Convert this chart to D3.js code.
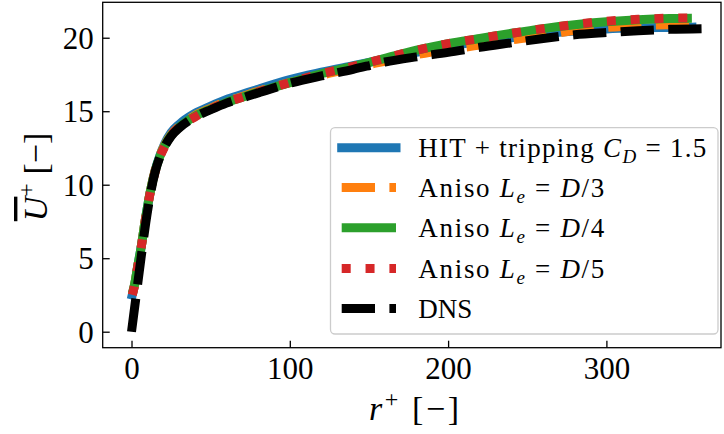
<!DOCTYPE html>
<html><head><meta charset="utf-8">
<script src="https://cdn.jsdelivr.net/npm/d3@7"></script>
<style>html,body{margin:0;padding:0;background:#fff;} svg{display:block;}</style>
</head><body>
<svg id="chart" width="724" height="434"></svg>
<script>
// Mean axial velocity profiles, wall units
const rDNS = [0, 3, 6, 9, 12, 15, 18, 21, 25, 30, 40, 50, 60, 70, 80, 100, 120, 140, 160, 180, 200, 220, 240, 260, 280, 300, 320, 340, 361];
const uDNS = [0, 2.5, 5.0, 7.4, 9.4, 10.9, 11.9, 12.6, 13.3, 13.85, 14.6, 15.1, 15.55, 15.9, 16.25, 16.9, 17.4, 17.85, 18.35, 18.7, 19.0, 19.35, 19.65, 19.95, 20.2, 20.35, 20.48, 20.57, 20.62];

const rModel = [0.5, 2, 4, 6, 9, 12, 15, 18, 21, 25, 30, 40, 50, 60, 70, 80, 100, 120, 140, 160, 180, 200, 220, 240, 260, 280, 300, 320, 340, 354];
const uHIT = [2.5, 3.2, 4.5, 5.7, 7.8, 9.6, 11.0, 12.0, 12.8, 13.55, 14.1, 14.85, 15.35, 15.8, 16.15, 16.5, 17.15, 17.65, 18.1, 18.55, 19.0, 19.4, 19.75, 20.0, 20.25, 20.45, 20.6, 20.67, 20.7, 20.72];
const uAniso3 = [2.55, 3.2, 4.5, 5.7, 7.8, 9.6, 11.0, 12.0, 12.7, 13.4, 13.95, 14.7, 15.2, 15.65, 16.0, 16.35, 16.95, 17.45, 17.95, 18.4, 18.85, 19.2, 19.5, 19.85, 20.15, 20.5, 20.7, 20.82, 20.88, 20.9];
const uAniso4 = [2.6, 3.25, 4.5, 5.7, 7.8, 9.6, 10.95, 11.95, 12.65, 13.35, 13.9, 14.65, 15.15, 15.6, 15.95, 16.3, 16.95, 17.55, 18.05, 18.6, 19.15, 19.6, 19.95, 20.3, 20.62, 20.88, 21.08, 21.22, 21.3, 21.32];
const uAniso5 = [2.5, 3.2, 4.45, 5.65, 7.75, 9.55, 10.9, 11.9, 12.6, 13.35, 13.9, 14.6, 15.15, 15.6, 15.95, 16.3, 16.95, 17.55, 18.05, 18.6, 19.15, 19.6, 19.95, 20.3, 20.62, 20.9, 21.12, 21.25, 21.33, 21.35];

const xTicks = [0, 100, 200, 300];
const yTicks = [0, 5, 10, 15, 20];

// label pieces: [text, italic?, shift ('sub' | 'sup' | null)]
const labelHIT = [["HIT + tripping ", false, null], ["C", true, null], ["D", true, "sub"], [" = 1.5", false, null]];
const labelA3 = [["Aniso ", false, null], ["L", true, null], ["e", true, "sub"], [" = ", false, null], ["D", true, null], ["/3", false, null]];
const labelA4 = [["Aniso ", false, null], ["L", true, null], ["e", true, "sub"], [" = ", false, null], ["D", true, null], ["/4", false, null]];
const labelA5 = [["Aniso ", false, null], ["L", true, null], ["e", true, "sub"], [" = ", false, null], ["D", true, null], ["/5", false, null]];
const labelDNS = [["DNS", false, null]];

const LW = 9;
const series = [
  {r: rModel, u: uHIT, color: "#1f77b4", dash: null, cap: "square", label: labelHIT, width: 288},
  {r: rModel, u: uAniso3, color: "#ff7f0e", dash: [3.7 * LW, 1.6 * LW], cap: "butt", label: labelA3, width: 186},
  {r: rModel, u: uAniso4, color: "#2ca02c", dash: null, cap: "butt", label: labelA4, width: 186},
  {r: rModel, u: uAniso5, color: "#d62728", dash: [1 * LW, 1.65 * LW], cap: "butt", label: labelA5, width: 186},
  {r: rDNS, u: uDNS, color: "#000000", dash: [3.7 * LW, 1.6 * LW], cap: "butt", label: labelDNS, width: null}
];

const FONT = "'Liberation Serif', 'DejaVu Serif', serif";
const svg = d3.select("#chart");
const L = 102.7, R = 721, T = 2.3, B = 347.7;

const x = d3.scaleLinear().domain([-18.2, 372.4]).range([L, R]);
const y = d3.scaleLinear().domain([-1.088, 22.41]).range([B, T]);

svg.append("defs").append("clipPath").attr("id", "plotclip")
  .append("rect").attr("x", L).attr("y", T).attr("width", R - L).attr("height", B - T);

// curves
const line = d3.line().curve(d3.curveMonotoneX);
const gLines = svg.append("g").attr("clip-path", "url(#plotclip)");
series.forEach(s => {
  const pts = s.r.map((rv, i) => [x(rv), y(s.u[i])]);
  gLines.append("path")
    .attr("d", line(pts))
    .attr("fill", "none")
    .attr("stroke", s.color)
    .attr("stroke-width", LW)
    .attr("stroke-linecap", s.cap)
    .attr("stroke-linejoin", "round")
    .attr("stroke-dasharray", s.dash ? s.dash.join(",") : null);
});

// axes
const xAxis = d3.axisBottom(x).tickValues(xTicks).tickSizeInner(-7).tickSizeOuter(0).tickPadding(9);
const yAxis = d3.axisLeft(y).tickValues(yTicks).tickSizeInner(-7).tickSizeOuter(0).tickPadding(9);
const gx = svg.append("g").attr("transform", `translate(0,${B})`).call(xAxis);
const gy = svg.append("g").attr("transform", `translate(${L},0)`).call(yAxis);
[gx, gy].forEach(g => {
  g.select(".domain").remove();
  g.selectAll(".tick line").attr("stroke", "#000").attr("stroke-width", 1.3);
  g.selectAll(".tick text").attr("font-family", FONT).attr("font-size", 31).attr("fill", "#000");
});
gx.selectAll(".tick text").attr("dy", "0.72em");
gy.selectAll(".tick text").attr("dy", "0.34em");

// frame
svg.append("rect").attr("x", L).attr("y", T).attr("width", R - L).attr("height", B - T)
  .attr("fill", "none").attr("stroke", "#000").attr("stroke-width", 1.3);

// axis labels
const xl = svg.append("text").attr("x", 414).attr("y", 420).attr("text-anchor", "middle")
  .attr("font-family", FONT).attr("font-size", 34).attr("fill", "#000")
  .attr("textLength", 90).attr("lengthAdjust", "spacing");
xl.append("tspan").attr("font-style", "italic").text("r");
xl.append("tspan").attr("dy", -13).attr("font-size", 24).text("+");
xl.append("tspan").attr("dy", 13).text(" [\u2212]");

const yl = svg.append("text").attr("transform", `translate(47,${(T + B) / 2 + 2}) rotate(-90)`)
  .attr("text-anchor", "middle").attr("font-family", FONT).attr("font-size", 34).attr("fill", "#000");
yl.append("tspan").attr("font-style", "italic").style("text-decoration", "overline").text("U");
yl.append("tspan").attr("dy", -13).attr("font-size", 24).text("+");
yl.append("tspan").attr("dy", 13).text(" [\u2212]");

// legend
const lg = svg.append("g");
lg.append("rect").attr("x", 330.5).attr("y", 127.7).attr("width", 387.5).attr("height", 206.3)
  .attr("rx", 4.5).attr("fill", "#fff").attr("fill-opacity", 0.8)
  .attr("stroke", "#cccccc").attr("stroke-width", 1.3);
const rowY = [147.8, 187.5, 227.8, 268.5, 308.5];
series.forEach((s, i) => {
  const yy = rowY[i];
  lg.append("line").attr("x1", 341.7).attr("x2", 396).attr("y1", yy).attr("y2", yy)
    .attr("stroke", s.color).attr("stroke-width", LW).attr("stroke-linecap", s.cap)
    .attr("stroke-dasharray", s.dash ? s.dash.join(",") : null);
  const t = lg.append("text").attr("x", 418.3).attr("y", yy + 9.5)
    .attr("font-family", FONT).attr("font-size", 27).attr("fill", "#000");
  if (s.width) t.attr("textLength", s.width).attr("lengthAdjust", "spacing");
  let shift = 0;
  s.label.forEach(([txt, it, sh]) => {
    const target = sh === "sub" ? 6 : sh === "sup" ? -10 : 0;
    const ts = t.append("tspan").text(txt).attr("dy", target - shift);
    if (it) ts.attr("font-style", "italic");
    if (sh) ts.attr("font-size", 19);
    shift = target;
  });
});
</script>
</body></html>
